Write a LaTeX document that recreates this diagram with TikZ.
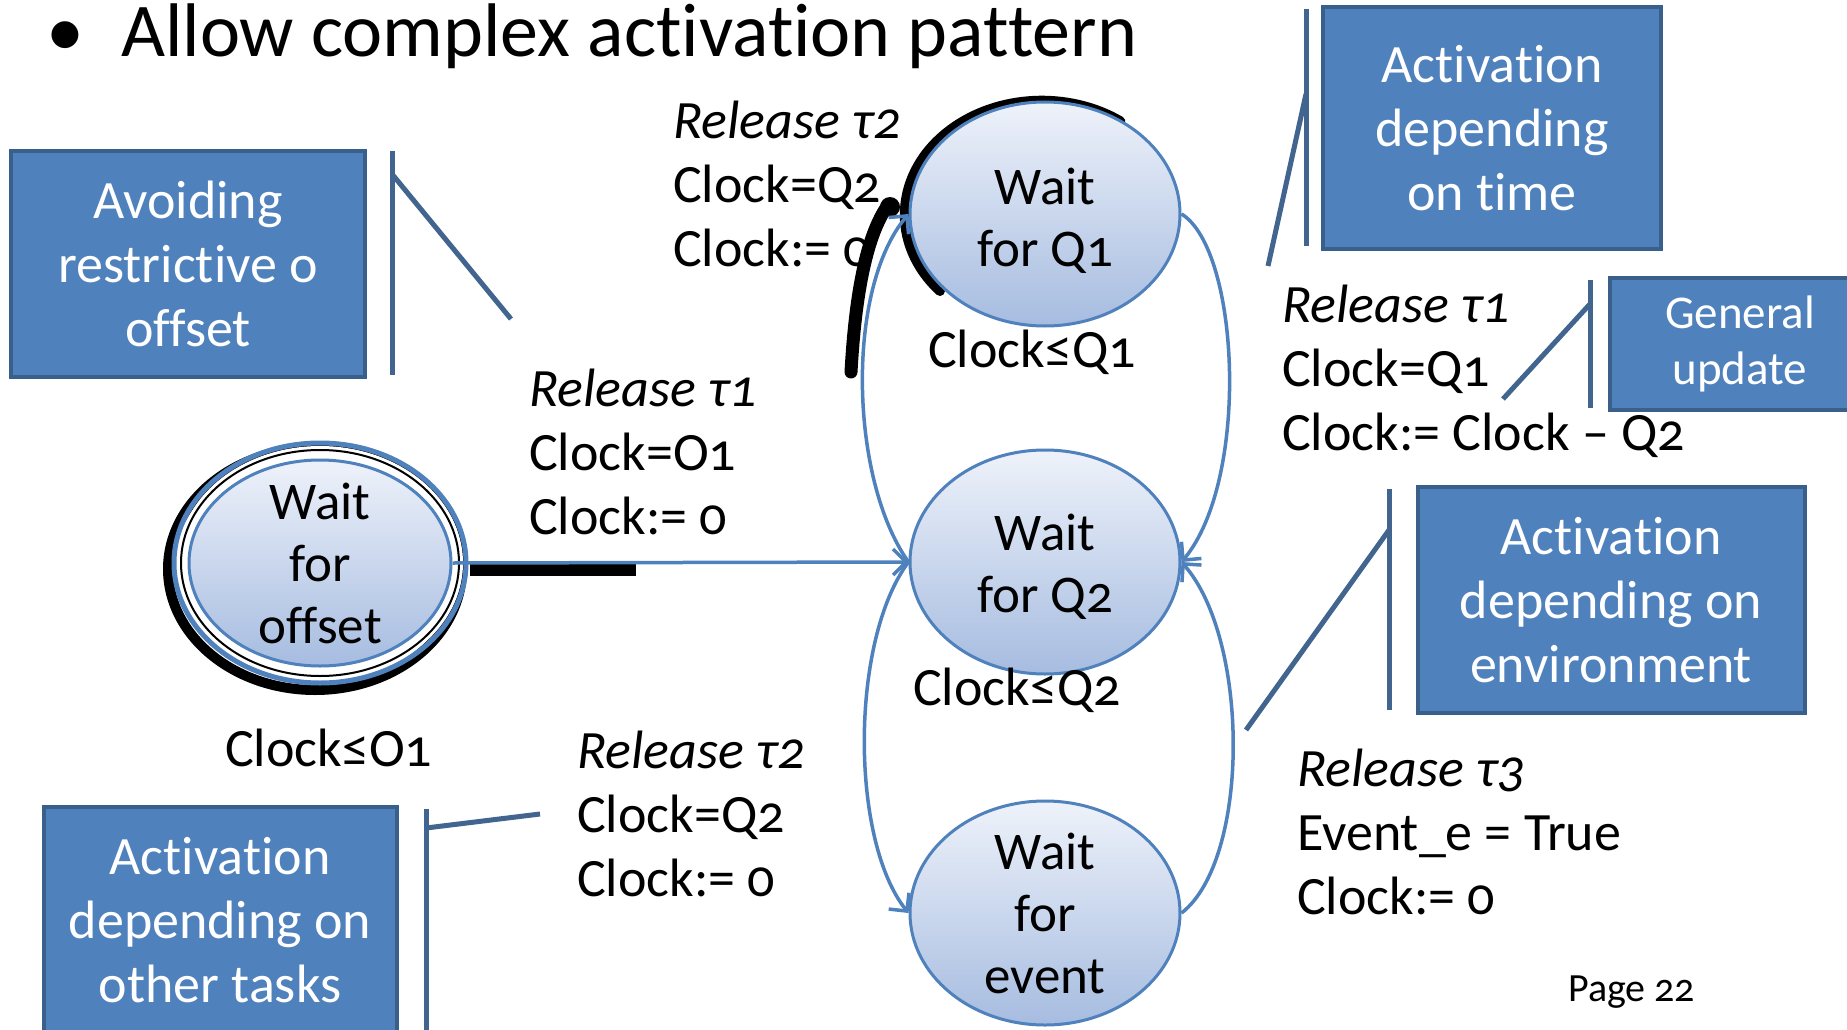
\documentclass[tikz,border=0pt]{standalone}
\usepackage{fontspec}
\setmainfont{Carlito}[Numbers=OldStyle,Ligatures=NoCommon]
\usetikzlibrary{arrows.meta,shapes.geometric}

\definecolor{boxblue}{HTML}{4F81BD}
\definecolor{boxedge}{HTML}{3A5F8B}
\definecolor{callout}{HTML}{41658F}
\definecolor{statetop}{HTML}{EEF2FA}
\definecolor{statebot}{HTML}{A6BCE0}

\tikzset{
  notebox/.style={rectangle, draw=boxedge, line width=4pt, fill=boxblue, text=white,
    align=center, inner sep=0pt, font=\fontsize{54}{64}\selectfont},
  calloutline/.style={draw=callout, line width=5pt},
  statenode/.style={ellipse, draw=boxblue, line width=3pt, top color=statetop,
    bottom color=statebot, inner xsep=-30pt, inner ysep=-30pt, align=center,
    font=\fontsize{53}{62}\selectfont, minimum width=270pt, minimum height=224pt},
  trans/.style={draw=boxblue, line width=3.5pt,
    -{Straight Barb[length=13pt,width=26pt]}},
  guard/.style={anchor=base west, inner sep=0pt, font=\fontsize{54}{64}\selectfont},
  inv/.style={anchor=base west, inner sep=0pt, font=\fontsize{54}{64}\selectfont},
  shadowline/.style={draw=black, line cap=round},
}

\newcommand{\guardlines}[3]{%
  \begin{tabular}[t]{@{}l@{}}#1\\#2\\#3\end{tabular}}

\begin{document}
\begin{tikzpicture}[x=1pt,y=-1pt]
\useasboundingbox (0,0) rectangle (1847,1030);
\fill[white] (0,0) rectangle (1847,1030);

% heading
\node[anchor=base, inner sep=0pt, font=\fontsize{76}{90}\selectfont] (bullet) at (65,57) {•};
\node[anchor=base west, inner sep=0pt, font=\fontsize{76}{90}\selectfont] (title) at (121,57)
  {Allow complex activation pattern};

% dark strokes lying under the states and edges
\draw[shadowline, line width=10pt] (940,291)
  arc[start angle=222, end angle=55, x radius=137pt, y radius=114pt];
\draw[shadowline, line width=13pt] (851,372) .. controls (855,300) and (865,240) .. (886,208);
\fill[black] (890,207) circle[radius=10pt];
\draw[black, line width=12pt] (470,570) -- (636,570);

% double ring of the initial state
\fill[white] (320,563) ellipse[x radius=150pt, y radius=124pt];
\draw[black, line width=10pt] (315,569) ellipse[x radius=147pt, y radius=121pt];
\fill[white] (320,563) ellipse[x radius=143pt, y radius=117pt];
\draw[boxblue, line width=5pt] (320,563) ellipse[x radius=146pt, y radius=120pt];
\draw[black, line width=2pt] (320,563) ellipse[x radius=139pt, y radius=113pt];

% states
\node[statenode, minimum width=262pt, minimum height=206pt] (off) at (320,563) {Wait\\for\\offset};
\node[statenode] (q1) at (1045,214) {\rule{0pt}{50pt}Wait\\for Q1};
\node[statenode] (q2) at (1045,562) {\rule{0pt}{46pt}Wait\\for Q2};
\node[statenode] (ev) at (1045,913) {Wait\\for\\event};

% invariants
\node[inv] (invq1) at (928,367) {Clock≤Q1};
\node[inv] (invq2) at (913,705) {Clock≤Q2};
\node[inv] (invoff) at (225,766) {Clock≤O1};

% transitions
\draw[trans] (off.east) -- (q2.west);
\draw[trans] (q2.west) .. controls (850,480) and (845,290) .. (q1.west);
\draw[trans] (q2.west) .. controls (850,640) and (850,840) .. (ev.west);
\draw[trans] (q1.east) .. controls (1240,250) and (1250,480) .. (q2.east);
\draw[trans] (ev.east) .. controls (1250,860) and (1250,640) .. (q2.east);

% guards and updates
\node[guard] (g1) at (529,406) {\guardlines{\textit{Release τ1}}{Clock=O1}{Clock:= 0}};
\node[guard] (g2) at (673,139) {\guardlines{\textit{Release τ2}}{Clock=Q2}{Clock:= 0}};
\node[guard] (g3) at (1282,322) {\guardlines{\textit{Release τ1}}{Clock=Q1}{Clock:= Clock – Q2}};
\node[guard] (g4) at (577,768) {\guardlines{\textit{Release τ2}}{Clock=Q2}{Clock:= 0}};
\node[guard] (g5) at (1297,786) {\guardlines{\textit{Release τ3}}{Event\_e = True}{Clock:= 0}};

% explanatory boxes
\node[notebox, minimum width=354pt, minimum height=226pt] (nOffset) at (188,264)
  {Avoiding\\restrictive o\\offset};
\node[notebox, minimum width=338pt, minimum height=242pt] (nTime) at (1492,128)
  {Activation\\depending\\on time};
\node[notebox, minimum width=260pt, minimum height=132pt,
  font=\fontsize{47}{56}\selectfont] (nUpdate) at (1740,344) {General\\update};
\node[notebox, minimum width=387pt, minimum height=226pt] (nEnv) at (1611,600)
  {Activation\\depending on\\environment};
\node[notebox, minimum width=353pt, minimum height=226pt] (nTasks) at (220,920)
  {Activation\\depending on\\other tasks};

% callout brackets
\coordinate (c1t) at (392,151); \coordinate (c1b) at (392,375);
\coordinate (c1k) at (392,174); \coordinate (c1e) at (511,319);
\draw[calloutline] (c1t) -- (c1b); \draw[calloutline] (c1k) -- (c1e);
\coordinate (c2t) at (1306,9); \coordinate (c2b) at (1306,246);
\coordinate (c2k) at (1306,94); \coordinate (c2e) at (1268,266);
\draw[calloutline] (c2t) -- (c2b); \draw[calloutline] (c2k) -- (c2e);
\coordinate (c3t) at (1590,280); \coordinate (c3b) at (1590,408);
\coordinate (c3k) at (1590,304); \coordinate (c3e) at (1503,399);
\draw[calloutline] (c3t) -- (c3b); \draw[calloutline] (c3k) -- (c3e);
\coordinate (c4t) at (1389,489); \coordinate (c4b) at (1389,710);
\coordinate (c4k) at (1389,530); \coordinate (c4e) at (1246,730);
\draw[calloutline] (c4t) -- (c4b); \draw[calloutline] (c4k) -- (c4e);
\coordinate (c5t) at (426,809); \coordinate (c5b) at (426,1035);
\coordinate (c5k) at (426,828); \coordinate (c5e) at (540,814);
\draw[calloutline] (c5t) -- (c5b); \draw[calloutline] (c5k) -- (c5e);

% page number
\node[anchor=base west, inner sep=0pt, font=\fontsize{40}{48}\selectfont] (page) at (1568,1001) {Page 22};
\end{tikzpicture}
\end{document}
